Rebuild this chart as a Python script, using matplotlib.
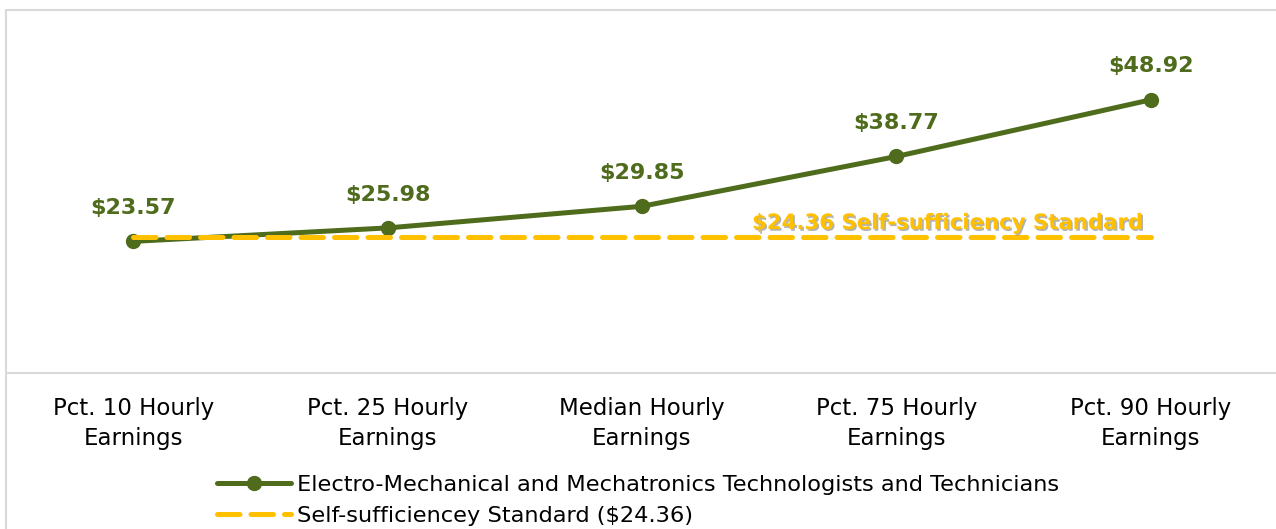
import matplotlib
matplotlib.use("Agg")
import matplotlib.pyplot as plt
import matplotlib.patheffects as pe
from matplotlib.patches import Rectangle

categories = ["Pct. 10 Hourly\nEarnings", "Pct. 25 Hourly\nEarnings", "Median Hourly\nEarnings",
              "Pct. 75 Hourly\nEarnings", "Pct. 90 Hourly\nEarnings"]
earnings = [23.57, 25.98, 29.85, 38.77, 48.92]
standard_value = 24.36
standard = [standard_value] * len(categories)
series_name = "Electro-Mechanical and Mechatronics Technologists and Technicians"
standard_name = "Self-sufficiencey Standard ($24.36)"
standard_label = "$24.36 Self-sufficiency Standard"

GREEN = "#4F6B1C"
YELLOW = "#FFC000"
FONT = ["DejaVu Sans"]
plt.rcParams["font.family"] = FONT

W, H = 1276, 529
fig = plt.figure(figsize=(W / 100, H / 100), dpi=100)
fig.patches.append(Rectangle((6 / W, -0.1), 1.2, (H - 10) / H + 0.1, transform=fig.transFigure,
                             fill=False, edgecolor="#D9D9D9", linewidth=1.5))

ax = fig.add_axes([6 / W, (H - 373) / H, 1272 / W, (373 - 10) / H])
x = list(range(len(categories)))
ax.plot(x, earnings, color=GREEN, linewidth=3.6, marker="o", markersize=10,
        solid_capstyle="round", label=series_name, zorder=3)
ax.plot(x, standard, color=YELLOW, linewidth=3.6, linestyle=(0, (4.5, 2.2)),
        dash_capstyle="round", label=standard_name, zorder=4)

for xi, v in zip(x, earnings):
    ax.annotate(f"${v:.2f}", (xi, v), xytext=(0, 24), textcoords="offset points",
                ha="center", va="center", fontsize=16, fontweight="bold", color=GREEN)

ax.annotate(standard_label, (3.2, standard_value), xytext=(0, 10), textcoords="offset points",
            ha="center", va="center", fontsize=15.3, fontweight="bold", color=YELLOW,
            path_effects=[pe.withSimplePatchShadow(offset=(1.2, -1.2), shadow_rgbFace="#808080", alpha=0.6)],
            zorder=5)

ax.set_xlim(-0.5, len(categories) - 0.5)
ax.set_ylim(0, 65)
ax.set_xticks(x)
ax.set_xticklabels(categories, fontsize=16.5, color="#000000", linespacing=1.4)
ax.tick_params(axis="x", length=0, pad=17)
ax.set_yticks([])
for s in ["left", "right", "top"]:
    ax.spines[s].set_visible(False)
ax.spines["bottom"].set_color("#D9D9D9")
ax.spines["bottom"].set_linewidth(1.5)

leg = fig.legend(loc="upper center", bbox_to_anchor=(0.5, (H - 466) / H), ncol=1, frameon=False,
                 fontsize=16.2, handlelength=3.3, handletextpad=0.25, labelspacing=0.5,
                 alignment="left", borderaxespad=0)

fig.savefig("out.png", dpi=100)
